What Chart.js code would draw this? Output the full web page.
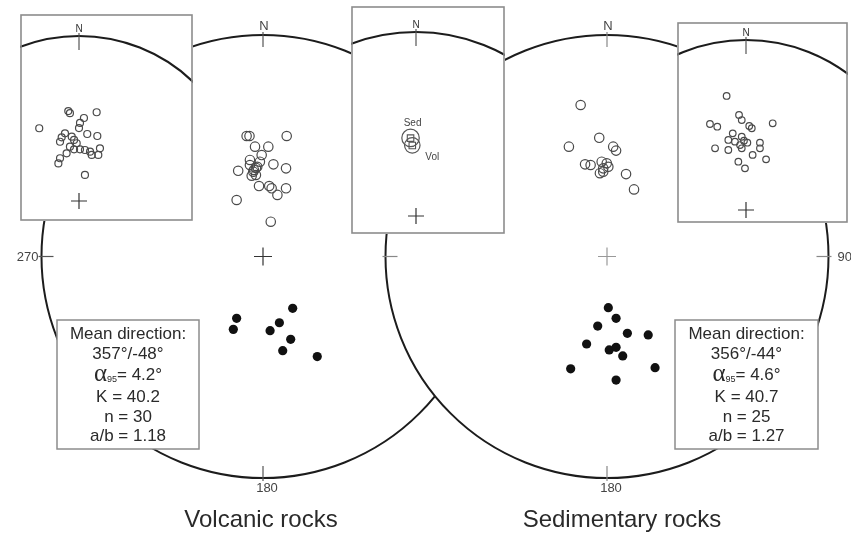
<!DOCTYPE html>
<html>
<head>
<meta charset="utf-8">
<script src="https://cdn.jsdelivr.net/npm/chart.js@4.4.1/dist/chart.umd.min.js"></script>
<style>
  html, body { margin: 0; padding: 0; background: #fff; }
  #stage { position: relative; width: 851px; height: 533px; overflow: hidden; }
  #stage canvas { position: absolute; }
</style>
</head>
<body>
<div id="stage">
  <canvas id="main" width="851" height="533" style="left:0;top:0"></canvas>
  <canvas id="insetVol" width="173" height="207" style="left:20px;top:14px"></canvas>
  <canvas id="insetMean" width="154" height="228" style="left:351px;top:6px"></canvas>
  <canvas id="insetSed" width="171" height="201" style="left:677px;top:22px"></canvas>
</div>
<script>
// site directions as stereonet coordinates [east, north], unit = primitive circle radius
const volcanicUp = [
  [-0.074, 0.544], [-0.061, 0.544], [0.107, 0.544], [-0.036, 0.496], [0.024, 0.496],
  [-0.006, 0.458], [-0.014, 0.428], [-0.059, 0.413], [-0.026, 0.405], [0.047, 0.416],
  [0.104, 0.398], [-0.112, 0.387], [-0.044, 0.383], [-0.032, 0.368], [-0.051, 0.365],
  [-0.041, 0.391], [-0.032, 0.400], [-0.059, 0.436], [-0.018, 0.318], [0.028, 0.318],
  [0.039, 0.308], [0.065, 0.278], [0.104, 0.308], [-0.119, 0.255], [0.035, 0.157]
];
const volcanicDown = [
  [0.134, -0.234], [-0.119, -0.279], [-0.134, -0.329], [0.074, -0.299],
  [0.032, -0.335], [0.125, -0.374], [0.089, -0.425], [0.245, -0.452]
];
const sedimentaryUp = [
  [-0.119, 0.684], [-0.035, 0.536], [-0.172, 0.496], [0.028, 0.496], [0.041, 0.478],
  [-0.099, 0.416], [-0.074, 0.413], [-0.024, 0.428], [-0.001, 0.421], [-0.017, 0.398],
  [0.006, 0.405], [-0.032, 0.376], [-0.017, 0.383], [0.086, 0.372], [0.122, 0.303]
];
const sedimentaryDown = [
  [0.006, -0.231], [0.041, -0.279], [-0.042, -0.314], [0.092, -0.347], [0.186, -0.354],
  [-0.092, -0.395], [0.010, -0.422], [0.041, -0.410], [0.071, -0.449], [-0.164, -0.507],
  [0.217, -0.502], [0.041, -0.558]
];
// sample directions in the enlarged views
const volcanicSamples = [
  [-0.241, 0.441], [0.107, 0.538], [-0.065, 0.545], [-0.055, 0.532], [0.030, 0.503],
  [0.006, 0.473], [0.000, 0.442], [0.050, 0.406], [0.111, 0.394], [-0.085, 0.410],
  [-0.105, 0.386], [-0.115, 0.359], [-0.044, 0.390], [-0.030, 0.370], [-0.014, 0.350],
  [-0.055, 0.329], [-0.030, 0.313], [0.006, 0.313], [0.036, 0.309], [0.067, 0.299],
  [0.127, 0.319], [0.117, 0.279], [0.077, 0.279], [-0.075, 0.289], [-0.115, 0.259],
  [-0.125, 0.228], [0.036, 0.158]
];
const sedimentarySamples = [
  [-0.114, 0.671], [-0.041, 0.559], [-0.025, 0.529], [0.019, 0.494], [0.034, 0.481],
  [0.157, 0.510], [-0.212, 0.506], [-0.169, 0.490], [-0.078, 0.451], [-0.025, 0.431],
  [-0.104, 0.412], [-0.065, 0.402], [-0.012, 0.408], [0.008, 0.396], [-0.035, 0.382],
  [0.082, 0.396], [0.082, 0.363], [-0.182, 0.363], [-0.104, 0.353], [-0.025, 0.363],
  [0.039, 0.324], [0.118, 0.298], [-0.045, 0.284], [-0.006, 0.245]
];

// Fisher statistics: volcanic, sedimentary
const groupNames = ["Volcanic rocks", "Sedimentary rocks"];
const groupShort = ["Vol", "Sed"];
const meanDec = [357, 356];
const meanInc = [-48, -44];
const alpha95 = [4.2, 4.6];
const kappa = [40.2, 40.7];
const siteCount = [30, 25];
const abRatio = [1.18, 1.27];

const netLabels = [
  { N: "N", W: "270", S: "180" },
  { N: "N", E: "90", S: "180" }
];

const FONT = "'Liberation Sans', Arial, sans-serif";
const DEG = Math.PI / 180;

// equal-angle (Wulff) projection
function wulff(dec, inc) {
  const r = Math.tan((90 - Math.abs(inc)) * DEG / 2);
  return { x: r * Math.sin(dec * DEG), y: r * Math.cos(dec * DEG) };
}
function coneCircle(dec, inc, a95) {
  const colat = (90 - Math.abs(inc)) * DEG;
  const r1 = Math.tan((colat - a95 * DEG) / 2);
  const r2 = Math.tan((colat + a95 * DEG) / 2);
  const rc = (r1 + r2) / 2;
  return { x: rc * Math.sin(dec * DEG), y: rc * Math.cos(dec * DEG), r: (r2 - r1) / 2 };
}

const toXY = (pts, dx = 0) => pts.map(([x, y]) => ({ x: x + dx, y }));

// main layout: net radius and centres in pixels
const NET_R = 221.5, NET_CY = 256.5, NET_CX = [263, 607];
const W = 851, H = 533;
const netOffset = [0, (NET_CX[1] - NET_CX[0]) / NET_R];

function openPts(data, r, color) {
  return { data, pointRadius: r, pointBorderWidth: 1.2, pointBorderColor: color,
           pointBackgroundColor: "rgba(0,0,0,0)", showLine: false };
}
function solidPts(data, r) {
  return { data, pointRadius: r, pointBorderWidth: 0, pointBackgroundColor: "#111", showLine: false };
}
function crossPt(x, color, r) {
  return { data: [{ x, y: 0 }], pointStyle: "cross", pointRadius: r, pointBorderWidth: 1.2,
           pointBorderColor: color, showLine: false };
}

function tickLine(ctx, x1, y1, x2, y2) {
  ctx.beginPath(); ctx.moveTo(x1, y1); ctx.lineTo(x2, y2); ctx.stroke();
}

const netsPlugin = {
  id: "nets",
  beforeDatasetsDraw(chart) {
    const { ctx, scales: { x, y } } = chart;
    ctx.save();
    netOffset.forEach((off, i) => {
      const cx = x.getPixelForValue(off), cy = y.getPixelForValue(0);
      const r = x.getPixelForValue(off + 1) - cx;
      ctx.beginPath();
      ctx.arc(cx, cy, r, 0, 2 * Math.PI);
      if (i > 0) { ctx.fillStyle = "#fff"; ctx.fill(); }
      ctx.strokeStyle = "#1c1c1c"; ctx.lineWidth = 2; ctx.stroke();

      ctx.strokeStyle = i > 0 ? "#888" : "#555"; ctx.lineWidth = 1.2;
      tickLine(ctx, cx, cy - r - 3, cx, cy - r + 12);
      tickLine(ctx, cx, cy + r + 3, cx, cy + r - 12);
      tickLine(ctx, cx - r - 3, cy, cx - r + 12, cy);
      tickLine(ctx, cx + r + 3, cy, cx + r - 12, cy);

      const lab = netLabels[i];
      ctx.fillStyle = "#444";
      ctx.font = "13px " + FONT;
      ctx.textAlign = "center"; ctx.textBaseline = "alphabetic";
      if (lab.N) ctx.fillText(lab.N, cx + 1, cy - r - 5);
      ctx.textBaseline = "middle";
      if (lab.S) ctx.fillText(lab.S, cx + 4, cy + r + 10);
      if (lab.W) { ctx.textAlign = "right"; ctx.fillText(lab.W, cx - r - 3, cy + 1); }
      if (lab.E) { ctx.textAlign = "left"; ctx.fillText(lab.E, cx + r + 9, cy + 1); }
    });
    ctx.restore();
  },
  afterDatasetsDraw(chart) {
    const { ctx, scales: { x, y } } = chart;
    ctx.save();
    const boxes = [{ l: 57, t: 320, w: 142, h: 129 }, { l: 675, t: 320, w: 143, h: 129 }];
    const txt = "17px " + FONT;
    boxes.forEach((b, i) => {
      ctx.fillStyle = "#fff"; ctx.fillRect(b.l, b.t, b.w, b.h);
      ctx.strokeStyle = "#8c8c8c"; ctx.lineWidth = 1.5; ctx.strokeRect(b.l, b.t, b.w, b.h);
      const mx = b.l + b.w / 2;
      ctx.fillStyle = "#2a2a2a";
      ctx.textBaseline = "middle"; ctx.textAlign = "center";
      ctx.font = txt;
      ctx.fillText("Mean direction:", mx, b.t + 14);
      ctx.fillText(meanDec[i] + "°/" + meanInc[i] + "°", mx, b.t + 34);
      ctx.fillText("K = " + kappa[i].toFixed(1), mx, b.t + 77);
      ctx.fillText("n = " + siteCount[i], mx, b.t + 97);
      ctx.fillText("a/b = " + abRatio[i].toFixed(2), mx, b.t + 116);

      // alpha95 line with a large Greek letter and subscript
      const aFont = "25px 'Liberation Serif', 'DejaVu Serif', serif";
      const sFont = "9px " + FONT;
      const rest = "= " + alpha95[i].toFixed(1) + "°";
      ctx.font = aFont; const wa = ctx.measureText("α").width;
      ctx.font = sFont; const ws = ctx.measureText("95").width;
      ctx.font = txt; const wr = ctx.measureText(rest).width;
      let px = mx - (wa + ws + wr) / 2;
      const ly = b.t + 55;
      ctx.textAlign = "left";
      ctx.font = aFont; ctx.fillText("α", px, ly - 1); px += wa;
      ctx.font = sFont; ctx.fillText("95", px, ly + 5); px += ws;
      ctx.font = txt; ctx.fillText(rest, px, ly);
    });

    // panel titles under each net
    ctx.fillStyle = "#2a2a2a";
    ctx.font = "24px " + FONT;
    ctx.textAlign = "center"; ctx.textBaseline = "alphabetic";
    ctx.fillText(groupNames[0], x.getPixelForValue(netOffset[0]) - 2, 527);
    ctx.fillText(groupNames[1], x.getPixelForValue(netOffset[1]) + 15, 527);
    ctx.restore();
  }
};

const baseOptions = (xmin, xmax, ymin, ymax) => ({
  responsive: false,
  animation: false,
  events: [],
  layout: { padding: 0, autoPadding: false },
  plugins: { legend: { display: false }, tooltip: { enabled: false } },
  scales: {
    x: { type: "linear", min: xmin, max: xmax, display: false },
    y: { type: "linear", min: ymin, max: ymax, display: false }
  }
});

new Chart(document.getElementById("main"), {
  type: "scatter",
  data: {
    datasets: [
      crossPt(netOffset[0], "#333", 9),
      crossPt(netOffset[1], "#999", 9),
      openPts(toXY(volcanicUp, netOffset[0]), 4.7, "#4a4a4a"),
      solidPts(toXY(volcanicDown, netOffset[0]), 4.6),
      openPts(toXY(sedimentaryUp, netOffset[1]), 4.7, "#4a4a4a"),
      solidPts(toXY(sedimentaryDown, netOffset[1]), 4.6)
    ]
  },
  options: baseOptions(-NET_CX[0] / NET_R, (W - NET_CX[0]) / NET_R,
                       (NET_CY - H) / NET_R, NET_CY / NET_R),
  plugins: [netsPlugin]
});

// enlarged upper part of a net, boxed
function insetPlugin(extra) {
  return {
    id: "insetNet",
    beforeDatasetsDraw(chart) {
      const { ctx, scales: { x, y } } = chart;
      const cx = x.getPixelForValue(0), cy = y.getPixelForValue(0);
      const r = x.getPixelForValue(1) - cx;
      ctx.save();
      ctx.fillStyle = "#fff"; ctx.fillRect(0, 0, chart.width, chart.height);
      ctx.beginPath(); ctx.arc(cx, cy, r, 0, 2 * Math.PI);
      ctx.strokeStyle = "#1c1c1c"; ctx.lineWidth = 2.2; ctx.stroke();
      ctx.strokeStyle = "#555"; ctx.lineWidth = 1.2;
      tickLine(ctx, cx, cy - r - 3, cx, cy - r + 14);
      ctx.fillStyle = "#333"; ctx.font = "10px " + FONT;
      ctx.textAlign = "center"; ctx.textBaseline = "alphabetic";
      ctx.fillText("N", cx, cy - r - 4);
      ctx.restore();
    },
    afterDatasetsDraw(chart) {
      const { ctx } = chart;
      ctx.save();
      if (extra) extra(chart);
      ctx.strokeStyle = "#8c8c8c"; ctx.lineWidth = 1.6;
      ctx.strokeRect(1, 1, chart.width - 2, chart.height - 2);
      ctx.restore();
    }
  };
}

function makeInset(id, cx, cy, r, datasets, extra) {
  const cv = document.getElementById(id);
  const w = cv.width, h = cv.height;
  return new Chart(cv, {
    type: "scatter",
    data: { datasets: [crossPt(0, "#333", 8), ...datasets] },
    options: baseOptions(-cx / r, (w - cx) / r, -(h - cy) / r, cy / r),
    plugins: [insetPlugin(extra)]
  });
}

makeInset("insetVol", 59, 187, 165, [openPts(toXY(volcanicSamples), 3.5, "#4a4a4a")]);
makeInset("insetSed", 69, 188, 170, [openPts(toXY(sedimentarySamples), 3.3, "#4a4a4a")]);

// group means with their alpha95 cones
const meanPts = meanDec.map((d, i) => wulff(d, meanInc[i]));
makeInset("insetMean", 65, 210, 184,
  [{ data: meanPts, pointStyle: "rect", pointRadius: 4.6, pointBorderWidth: 1.1,
     pointBorderColor: "#555", pointBackgroundColor: "rgba(0,0,0,0)", showLine: false }],
  (chart) => {
    const { ctx, scales: { x, y } } = chart;
    const unit = x.getPixelForValue(1) - x.getPixelForValue(0);
    ctx.strokeStyle = "#555"; ctx.lineWidth = 1.2;
    meanDec.forEach((d, i) => {
      const c = coneCircle(d, meanInc[i], alpha95[i]);
      ctx.beginPath();
      ctx.arc(x.getPixelForValue(c.x), y.getPixelForValue(c.y), c.r * unit, 0, 2 * Math.PI);
      ctx.stroke();
    });
    ctx.fillStyle = "#444"; ctx.font = "10px " + FONT;
    ctx.textAlign = "center"; ctx.textBaseline = "middle";
    const sed = meanPts[1], vol = meanPts[0];
    ctx.fillText(groupShort[1], x.getPixelForValue(sed.x) + 2, y.getPixelForValue(sed.y) - 15);
    ctx.fillText(groupShort[0], x.getPixelForValue(vol.x) + 20, y.getPixelForValue(vol.y) + 12);
  });
</script>
</body>
</html>
